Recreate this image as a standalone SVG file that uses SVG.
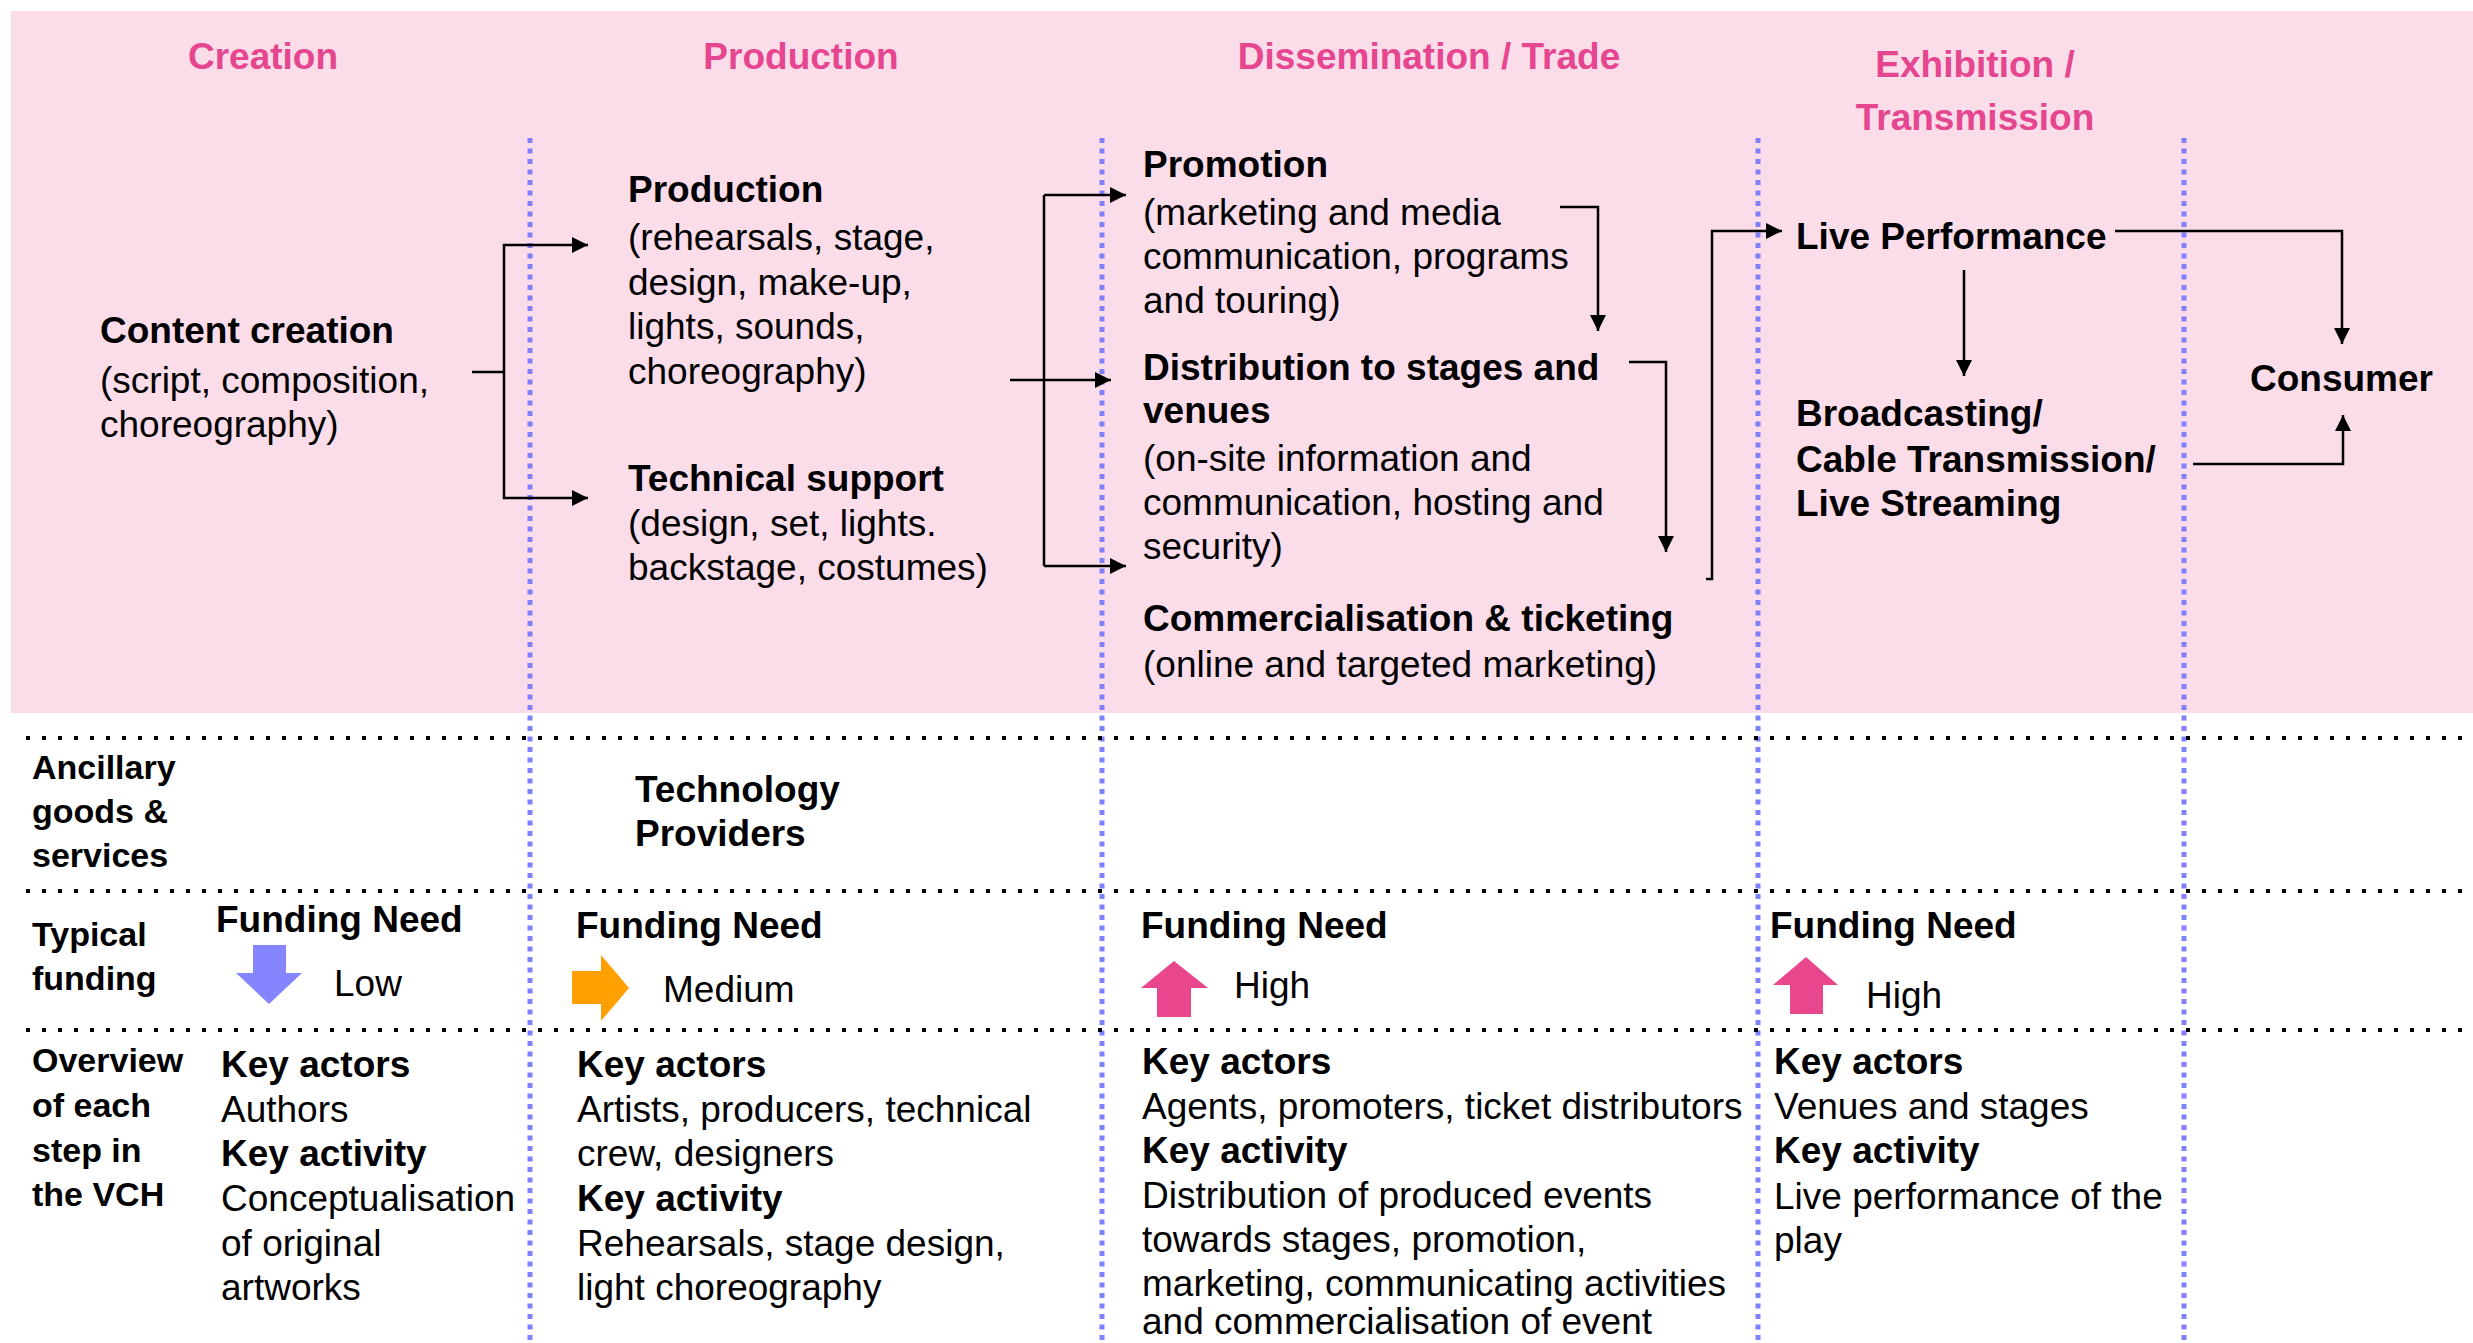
<svg xmlns="http://www.w3.org/2000/svg" width="2473" height="1343" viewBox="0 0 2473 1343">
<defs>
<marker id="ah" markerUnits="userSpaceOnUse" markerWidth="16" markerHeight="16" refX="16" refY="8" orient="auto">
<path d="M0,0 L16,8 L0,16 z" fill="#000"/>
</marker>
<style>
text{font-family:"Liberation Sans",Arial,sans-serif;font-size:37px;fill:#000}
.h{font-weight:bold;fill:#E6468F;text-anchor:middle}
.b{font-weight:bold}
.l{font-weight:bold;font-size:34px}
.vl{stroke:#8080FF;stroke-width:5;stroke-dasharray:5 5.5;fill:none}
.hl{stroke:#000;stroke-width:4;stroke-dasharray:4 12;fill:none}
.c{stroke:#000;stroke-width:2.5;fill:none}
.ca{stroke:#000;stroke-width:2.5;fill:none;marker-end:url(#ah)}
</style>
</defs>
<rect x="11" y="11" width="2462" height="702" fill="#FBDCE9"/>
<g id="grid">
<line class="vl" x1="530" y1="138" x2="530" y2="1343"/>
<line class="vl" x1="1102" y1="138" x2="1102" y2="1343"/>
<line class="vl" x1="1758" y1="138" x2="1758" y2="1343"/>
<line class="vl" x1="2184" y1="138" x2="2184" y2="1343"/>
<line class="hl" x1="26" y1="738" x2="2462" y2="738"/>
<line class="hl" x1="26" y1="891" x2="2462" y2="891"/>
<line class="hl" x1="26" y1="1030" x2="2462" y2="1030"/>
</g>
<g id="headers">
<text class="h" x="263" y="69">Creation</text>
<text class="h" x="801" y="69">Production</text>
<text class="h" x="1429" y="69">Dissemination / Trade</text>
<text class="h" x="1975" y="77">Exhibition /</text>
<text class="h" x="1975" y="130">Transmission</text>
</g>
<g id="content-creation">
<text class="b" x="100" y="343">Content creation</text>
<text x="100" y="393">(script, composition,</text>
<text x="100" y="437">choreography)</text>
</g>
<g id="production">
<text class="b" x="628" y="202">Production</text>
<text x="628" y="250">(rehearsals, stage,</text>
<text x="628" y="295">design, make-up,</text>
<text x="628" y="339">lights, sounds,</text>
<text x="628" y="384">choreography)</text>
</g>
<g id="technical-support">
<text class="b" x="628" y="491">Technical support</text>
<text x="628" y="536">(design, set, lights.</text>
<text x="628" y="580">backstage, costumes)</text>
</g>
<g id="promotion">
<text class="b" x="1143" y="177">Promotion</text>
<text x="1143" y="225">(marketing and media</text>
<text x="1143" y="269">communication, programs</text>
<text x="1143" y="313">and touring)</text>
</g>
<g id="distribution">
<text class="b" x="1143" y="380">Distribution to stages and</text>
<text class="b" x="1143" y="423">venues</text>
<text x="1143" y="471">(on-site information and</text>
<text x="1143" y="515">communication, hosting and</text>
<text x="1143" y="559">security)</text>
</g>
<g id="commercialisation">
<text class="b" x="1143" y="631">Commercialisation &amp; ticketing</text>
<text x="1143" y="677">(online and targeted marketing)</text>
</g>
<g id="live-performance">
<text class="b" x="1796" y="249">Live Performance</text>
</g>
<g id="broadcasting">
<text class="b" x="1796" y="426">Broadcasting/</text>
<text class="b" x="1796" y="472">Cable Transmission/</text>
<text class="b" x="1796" y="516">Live Streaming</text>
</g>
<g id="consumer">
<text class="b" x="2250" y="391">Consumer</text>
</g>
<g id="connectors">
<polyline class="c" points="472,372 504,372"/>
<polyline class="ca" points="504,372 504,245 588,245"/>
<polyline class="ca" points="504,372 504,498 588,498"/>
<polyline class="ca" points="1010,380 1111,380"/>
<polyline class="c" points="1044,195 1044,566"/>
<polyline class="ca" points="1044,195 1126,195"/>
<polyline class="ca" points="1044,566 1126,566"/>
<polyline class="ca" points="1560,207 1598,207 1598,331"/>
<polyline class="ca" points="1629,362 1666,362 1666,552"/>
<polyline class="ca" points="1706,579 1712,579 1712,231 1782,231"/>
<polyline class="ca" points="1964,270 1964,376"/>
<polyline class="ca" points="2115,231 2342,231 2342,344"/>
<polyline class="ca" points="2193,464 2343,464 2343,415"/>
</g>
<g id="ancillary">
<text class="l" x="32" y="779">Ancillary</text>
<text class="l" x="32" y="823">goods &amp;</text>
<text class="l" x="32" y="867">services</text>
<text class="b" x="635" y="802">Technology</text>
<text class="b" x="635" y="846">Providers</text>
</g>
<g id="funding">
<text class="l" x="32" y="946">Typical</text>
<text class="l" x="32" y="990">funding</text>
<text class="b" x="216" y="932">Funding Need</text>
<path d="M253,945 H286 V973 H302 L269,1004 L236,973 H253 Z" fill="#8585FF"/>
<text x="334" y="996">Low</text>
<text class="b" x="576" y="938">Funding Need</text>
<path d="M572,971 H601 V955 L629,988 L601,1021 V1004 H572 Z" fill="#FFA000"/>
<text x="663" y="1002">Medium</text>
<text class="b" x="1141" y="938">Funding Need</text>
<path d="M1174,961 L1208,988 H1191 V1017 H1157 V988 H1141 Z" fill="#E8478E"/>
<text x="1234" y="998">High</text>
<text class="b" x="1770" y="938">Funding Need</text>
<path d="M1806,957 L1838,985 H1823 V1014 H1790 V985 H1773 Z" fill="#E8478E"/>
<text x="1866" y="1008">High</text>
</g>
<g id="overview">
<text class="l" x="32" y="1072">Overview</text>
<text class="l" x="32" y="1117">of each</text>
<text class="l" x="32" y="1162">step in</text>
<text class="l" x="32" y="1206">the VCH</text>
<text class="b" x="221" y="1077">Key actors</text>
<text x="221" y="1122">Authors</text>
<text class="b" x="221" y="1166">Key activity</text>
<text x="221" y="1211">Conceptualisation</text>
<text x="221" y="1256">of original</text>
<text x="221" y="1300">artworks</text>
<text class="b" x="577" y="1077">Key actors</text>
<text x="577" y="1122">Artists, producers, technical</text>
<text x="577" y="1166">crew, designers</text>
<text class="b" x="577" y="1211">Key activity</text>
<text x="577" y="1256">Rehearsals, stage design,</text>
<text x="577" y="1300">light choreography</text>
<text class="b" x="1142" y="1074">Key actors</text>
<text x="1142" y="1119">Agents, promoters, ticket distributors</text>
<text class="b" x="1142" y="1163">Key activity</text>
<text x="1142" y="1208">Distribution of produced events</text>
<text x="1142" y="1252">towards stages, promotion,</text>
<text x="1142" y="1296">marketing, communicating activities</text>
<text x="1142" y="1334">and commercialisation of event</text>
<text class="b" x="1774" y="1074">Key actors</text>
<text x="1774" y="1119">Venues and stages</text>
<text class="b" x="1774" y="1163">Key activity</text>
<text x="1774" y="1209">Live performance of the</text>
<text x="1774" y="1253">play</text>
</g>
</svg>
